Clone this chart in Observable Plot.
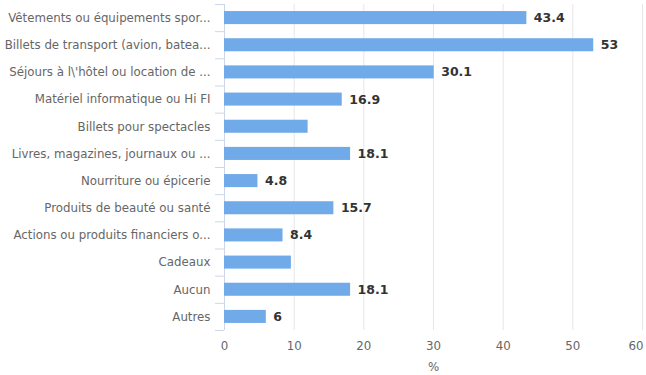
<!DOCTYPE html>
<html><head><meta charset="utf-8">
<script src="https://cdn.jsdelivr.net/npm/d3@7"></script>
<script src="https://cdn.jsdelivr.net/npm/@observablehq/plot@0.6"></script>
<style>
body{margin:0;background:#fff;}
svg{overflow:visible;}
</style>
</head><body><div id="chart"></div>
<script>
const categories = [
  "Vêtements ou équipements spor...",
  "Billets de transport (avion, batea...",
  "Séjours à l\\'hôtel ou location de ...",
  "Matériel informatique ou Hi FI",
  "Billets pour spectacles",
  "Livres, magazines, journaux ou ...",
  "Nourriture ou épicerie",
  "Produits de beauté ou santé",
  "Actions ou produits financiers o...",
  "Cadeaux",
  "Aucun",
  "Autres"
];
const values = [43.4, 53, 30.1, 16.9, 12, 18.1, 4.8, 15.7, 8.4, 9.6, 18.1, 6];
const valueLabels = ["43.4", "53", "30.1", "16.9", null, "18.1", "4.8", "15.7", "8.4", null, "18.1", "6"];
const xTicks = [0, 10, 20, 30, 40, 50, 60];
const xLabel = "%";

const data = categories.map((c, i) => ({i, c, v: values[i], lab: valueLabels[i]}));
const bounds = d3.range(categories.length + 1).map(k => k - 0.5);
const font = "'DejaVu Sans', sans-serif";
const lastTick = xTicks[xTicks.length - 1];

const chart = Plot.plot({
  width: 646,
  height: 375,
  marginLeft: 224,
  marginRight: 4,
  marginTop: 4,
  marginBottom: 45,
  style: {fontFamily: font, fontSize: "11.8px", color: "#666", background: "#fff"},
  x: {domain: [0, 60], ticks: xTicks, label: null},
  y: {domain: [-0.5, categories.length - 0.5], reverse: true, label: null},
  marks: [
    Plot.gridX(xTicks.filter(t => t > 0), {stroke: "#e6e6e6", strokeOpacity: 1}),
    Plot.axisX(xTicks.slice(0, -1), {tickSize: 0, tickPadding: 11, fill: "#666", fontSize: 11.8, label: xLabel, labelAnchor: "center", labelArrow: "none", labelOffset: 40}),
    Plot.axisX([lastTick], {tickSize: 0, tickPadding: 11, fill: "#666", fontSize: 11.8, textAnchor: "end", dx: 1, label: null}),
    Plot.axisY(bounds, {tickSize: 9, stroke: "#ccd6eb", strokeOpacity: 1, tickFormat: () => "", label: null}),
    Plot.axisY(data.map(d => d.i), {tickSize: 0, tickPadding: 14, tickFormat: i => categories[i], fill: "#666", fontSize: 11.8, label: null}),
    Plot.ruleX([0], {stroke: "#ccd6eb"}),
    Plot.rectX(data, {x1: 0, x2: "v", y1: d => d.i - 0.24, y2: d => d.i + 0.24, fill: "#70aae8"}),
    Plot.text(data.filter(d => d.lab), {x: "v", y: "i", text: "lab", textAnchor: "start", dx: 7, fontWeight: "bold", fill: "#333", fontSize: 12.5})
  ]
});
document.getElementById("chart").append(chart);
</script>
</body></html>
